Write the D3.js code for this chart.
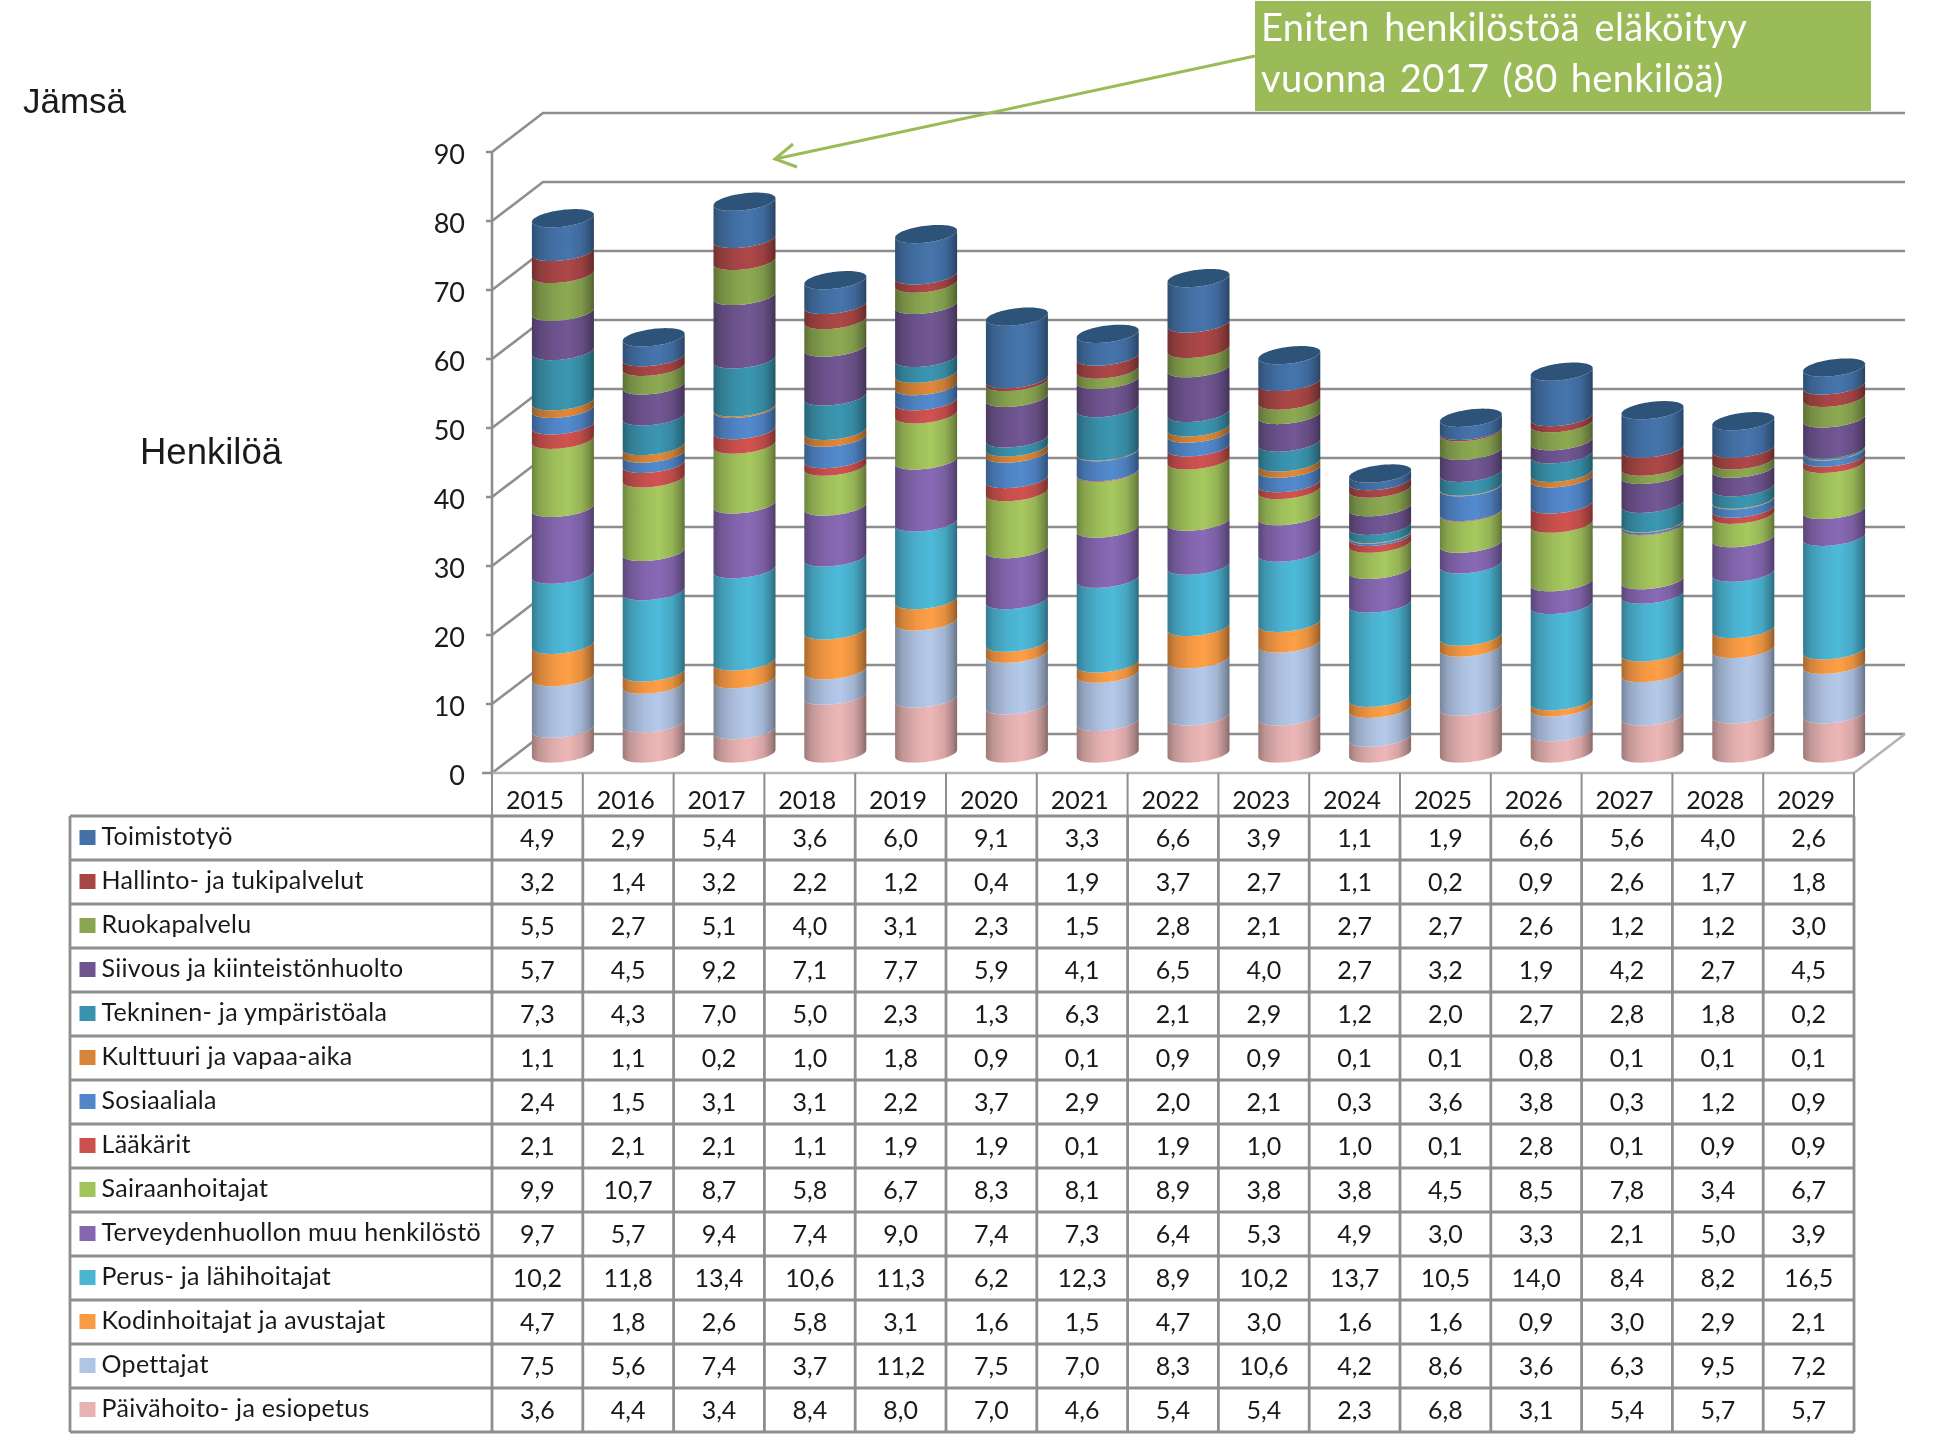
<!DOCTYPE html>
<html lang="fi">
<head>
<meta charset="utf-8">
<title>Jämsä – eläköityminen</title>
<script src="https://cdn.jsdelivr.net/npm/d3@7"></script>
<style>
html,body{margin:0;padding:0;background:#fff}
svg{display:block;filter:blur(0.45px)}
text{font-family:Lato,"Open Sans",sans-serif;fill:#1a1a1a}
</style>
</head>
<body>
<svg id="chart" width="1941" height="1452" xmlns="http://www.w3.org/2000/svg"></svg>
<script>
const years = [2015,2016,2017,2018,2019,2020,2021,2022,2023,2024,2025,2026,2027,2028,2029];
const yTicks = [0,10,20,30,40,50,60,70,80,90];

const toimistotyo = [4.9,2.9,5.4,3.6,6.0,9.1,3.3,6.6,3.9,1.1,1.9,6.6,5.6,4.0,2.6];
const hallinto    = [3.2,1.4,3.2,2.2,1.2,0.4,1.9,3.7,2.7,1.1,0.2,0.9,2.6,1.7,1.8];
const ruokapalvelu= [5.5,2.7,5.1,4.0,3.1,2.3,1.5,2.8,2.1,2.7,2.7,2.6,1.2,1.2,3.0];
const siivous     = [5.7,4.5,9.2,7.1,7.7,5.9,4.1,6.5,4.0,2.7,3.2,1.9,4.2,2.7,4.5];
const tekninen    = [7.3,4.3,7.0,5.0,2.3,1.3,6.3,2.1,2.9,1.2,2.0,2.7,2.8,1.8,0.2];
const kulttuuri   = [1.1,1.1,0.2,1.0,1.8,0.9,0.1,0.9,0.9,0.1,0.1,0.8,0.1,0.1,0.1];
const sosiaaliala = [2.4,1.5,3.1,3.1,2.2,3.7,2.9,2.0,2.1,0.3,3.6,3.8,0.3,1.2,0.9];
const laakarit    = [2.1,2.1,2.1,1.1,1.9,1.9,0.1,1.9,1.0,1.0,0.1,2.8,0.1,0.9,0.9];
const sairaanhoitajat=[9.9,10.7,8.7,5.8,6.7,8.3,8.1,8.9,3.8,3.8,4.5,8.5,7.8,3.4,6.7];
const terveydenhuolto=[9.7,5.7,9.4,7.4,9.0,7.4,7.3,6.4,5.3,4.9,3.0,3.3,2.1,5.0,3.9];
const lahihoitajat= [10.2,11.8,13.4,10.6,11.3,6.2,12.3,8.9,10.2,13.7,10.5,14.0,8.4,8.2,16.5];
const kodinhoitajat=[4.7,1.8,2.6,5.8,3.1,1.6,1.5,4.7,3.0,1.6,1.6,0.9,3.0,2.9,2.1];
const opettajat   = [7.5,5.6,7.4,3.7,11.2,7.5,7.0,8.3,10.6,4.2,8.6,3.6,6.3,9.5,7.2];
const paivahoito  = [3.6,4.4,3.4,8.4,8.0,7.0,4.6,5.4,5.4,2.3,6.8,3.1,5.4,5.7,5.7];

// Top row of the table first (also the top of each stack)
const seriesNames = ["Toimistotyö","Hallinto- ja tukipalvelut","Ruokapalvelu","Siivous ja kiinteistönhuolto","Tekninen- ja ympäristöala","Kulttuuri ja vapaa-aika","Sosiaaliala","Lääkärit","Sairaanhoitajat","Terveydenhuollon muu henkilöstö","Perus- ja lähihoitajat","Kodinhoitajat ja avustajat","Opettajat","Päivähoito- ja esiopetus"];
const seriesValues = [toimistotyo,hallinto,ruokapalvelu,siivous,tekninen,kulttuuri,sosiaaliala,laakarit,sairaanhoitajat,terveydenhuolto,lahihoitajat,kodinhoitajat,opettajat,paivahoito];
const seriesColors = ["#4472A8","#A84646","#89A550","#6F5590","#3A93AD","#D98539","#5187C9","#CB514E","#A2C35C","#8567B0","#4CB5D4","#F99B45","#B0C4E4","#E7B2B2"];
const capColor = "#2E5379";

const svg = d3.select("#chart");
const defs = svg.append("defs");

// Layout of the pseudo-3D frame
const tableLeft = 70, frameLeft = 492, frameRight = 1854, wallDx = 51, wallDy = -39;
const yFront0 = 773, yFront90 = 152;
const rowTop = 816, rowH = 44;
const gridColor = "#8e8e8e";

const y = d3.scaleLinear().domain([0,90]).range([yFront0,yFront90]);
const yBar = d3.scaleLinear().domain([0,90]).range([yFront0-19.5,yFront0-19.5-90*6.88]);
const x = d3.scaleBand().domain(years).range([frameLeft,frameRight]);

// ---------- walls, floor, grid ----------
const grid = svg.append("g").attr("fill","none").attr("stroke",gridColor).attr("stroke-width",2.6);
yTicks.forEach(v=>{
  const yy = y(v);
  grid.append("path").attr("d",`M${frameLeft-(v===0?10:6)},${yy}H${frameLeft}L${frameLeft+wallDx},${yy+wallDy}H${frameRight+wallDx}`);
});
grid.append("path").attr("d",`M${frameLeft},${y(0)}V${y(90)}`);
grid.append("path").attr("d",`M${frameLeft},${y(0)}H${frameRight}L${frameRight+wallDx},${y(0)+wallDy}`).attr("stroke","#b4b4b4");

// y-axis labels
svg.append("g").selectAll("text").data(yTicks).join("text")
  .attr("x",465).attr("y",d=>y(d)+1).attr("text-anchor","end").attr("dominant-baseline","central")
  .attr("font-size",27).text(d=>d);

// ---------- cylinders ----------
seriesColors.forEach((c,i)=>{
  const col = d3.color(c);
  const g = defs.append("linearGradient").attr("id","cyl"+i).attr("x1",0).attr("x2",1).attr("y1",0).attr("y2",0);
  [[0,0.68],[0.12,0.84],[0.35,0.97],[0.58,1.03],[0.8,0.92],[0.94,0.72],[1,0.58]].forEach(([o,k])=>{
    g.append("stop").attr("offset",o).attr("stop-color",d3.rgb(Math.min(255,col.r*k),Math.min(255,col.g*k),Math.min(255,col.b*k)).formatHex());
  });
});

const barW = 62, rx = barW/2, ry = 8.4, tilt = 3.6;
const barDx = wallDx/2;
const arcT = d3.range(0,Math.PI+1e-6,Math.PI/40);
const cx = yr => x(yr)+x.bandwidth()/2+barDx;
const arc = (yr,v,rev)=>{
  const c = cx(yr), cy = yBar(v);
  const pts = arcT.map(t=>[c+rx*Math.cos(t), cy+ry*Math.sin(t)-tilt*Math.cos(t)]);
  return rev?pts.reverse():pts;
};
const line = d3.line();
const bars = svg.append("g");
years.forEach((yr,j)=>{
  const g = bars.append("g");
  let base = 0;
  // stacks are drawn bottom-up
  d3.range(seriesNames.length-1,-1,-1).forEach(i=>{
    const val = seriesValues[i][j], top = base+val;
    g.append("path").attr("fill",`url(#cyl${i})`)
      .attr("d",line([...arc(yr,base,false),...arc(yr,top,true)])+"Z");
    base = top;
  });
  const c = cx(yr), cy = yBar(base);
  const cap = d3.range(0,Math.PI*2,Math.PI/40).map(t=>[c+rx*Math.cos(t), cy+ry*Math.sin(t)-tilt*Math.cos(t)]);
  g.append("path").attr("fill",capColor).attr("d",line(cap)+"Z");
});

// ---------- data table ----------
const rowY = i => rowTop+i*rowH;
const tableBottom = rowY(seriesNames.length);
const tg = svg.append("g").attr("fill","none").attr("stroke",gridColor).attr("stroke-width",2.8);
years.concat(["end"]).forEach((yr,j)=>{
  const xx = frameLeft + j*x.bandwidth();
  tg.append("path").attr("d",`M${xx},${y(0)}V${rowTop}`).attr("stroke-width",2);
  tg.append("path").attr("d",`M${xx},${rowTop}V${tableBottom}`);
});
d3.range(seriesNames.length+1).forEach(i=>{
  tg.append("path").attr("d",`M${tableLeft},${rowY(i)}H${frameRight}`);
});
tg.append("path").attr("d",`M${tableLeft},${rowTop}V${tableBottom}`);

svg.append("g").selectAll("text").data(years).join("text")
  .attr("x",d=>x(d)+x.bandwidth()/2-2.5).attr("y",798.5).attr("text-anchor","middle").attr("dominant-baseline","central")
  .attr("font-size",25).text(d=>d);

seriesNames.forEach((name,i)=>{
  const cy = rowY(i)+rowH/2;
  svg.append("rect").attr("x",79.5).attr("y",cy-8).attr("width",16).attr("height",15).attr("fill",seriesColors[i]);
  svg.append("text").attr("x",101.5).attr("y",cy-3.5).attr("dominant-baseline","central")
    .attr("font-size",25).attr("letter-spacing",0.3).text(name);
  svg.append("g").selectAll("text").data(seriesValues[i]).join("text")
    .attr("x",(d,j)=>x(years[j])+x.bandwidth()/2).attr("y",cy-1.5)
    .attr("text-anchor","middle").attr("dominant-baseline","central").attr("font-size",25)
    .text(d=>d.toFixed(1).replace(".",","));
});

// ---------- titles ----------
svg.append("text").attr("x",23).attr("y",113).attr("font-size",35).attr("style","font-family:'Liberation Sans'").text("Jämsä");
svg.append("text").attr("x",140).attr("y",464).attr("font-size",36.5).attr("style","font-family:'Liberation Sans'").text("Henkilöä");

// ---------- callout ----------
const green = "#9BBB59";
svg.append("rect").attr("x",1255).attr("y",1).attr("width",616).attr("height",110).attr("fill",green);
svg.append("text").attr("x",1261).attr("y",41).attr("font-size",38).attr("letter-spacing",0.35).attr("word-spacing",4.5).attr("style","fill:#fff").text("Eniten henkilöstöä eläköityy");
svg.append("text").attr("x",1261).attr("y",92).attr("font-size",38).attr("letter-spacing",0.35).attr("word-spacing",3).attr("style","fill:#fff").text("vuonna 2017 (80 henkilöä)");
const ax = svg.append("g").attr("fill","none").attr("stroke",green).attr("stroke-width",3);
ax.append("path").attr("d","M1255,56L775,159");
ax.append("path").attr("d","M793,144L775,159L797,167");
</script>
</body>
</html>
